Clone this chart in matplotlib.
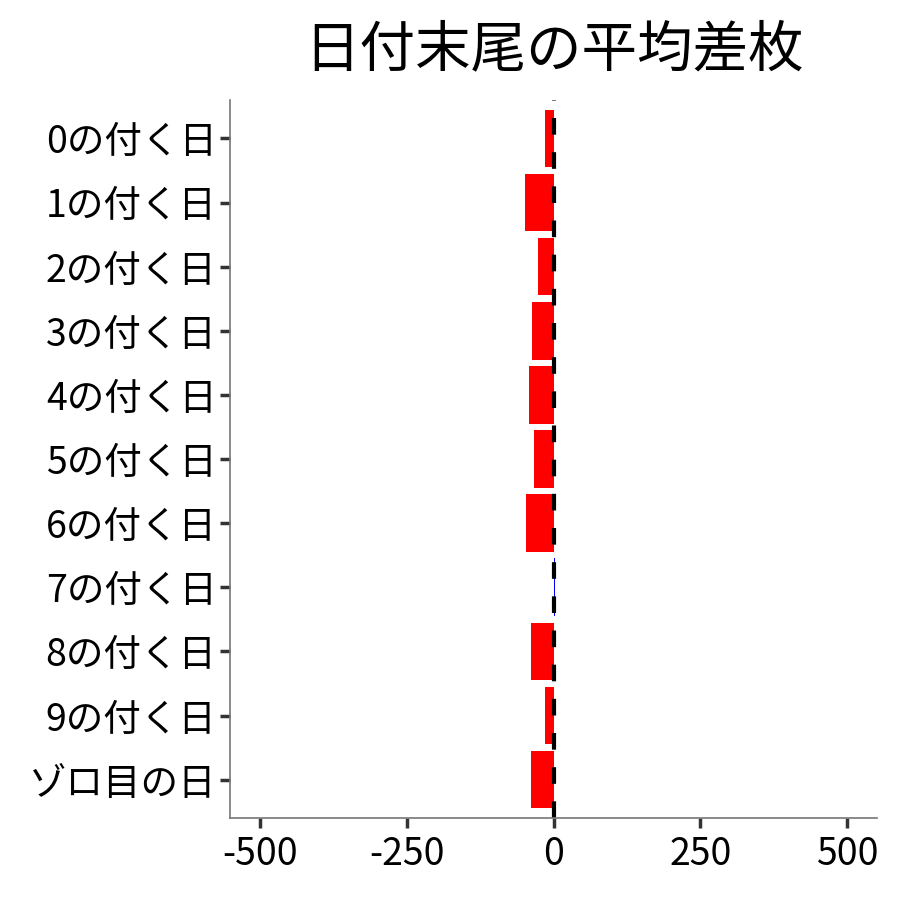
import matplotlib.pyplot as plt

plt.rcParams['font.family'] = ['Noto Sans CJK JP', 'DejaVu Sans']

labels = ['0の付く日', '1の付く日', '2の付く日', '3の付く日', '4の付く日',
          '5の付く日', '6の付く日', '7の付く日', '8の付く日', '9の付く日', 'ゾロ目の日']
values = [-15, -49, -27, -37, -42, -34, -46, 2, -39, -15, -39]
xticks = [-500, -250, 0, 250, 500]

fig = plt.figure(figsize=(9, 9), dpi=100)
ax = fig.add_axes([0.256, 0.091, 0.718, 0.798])

# 負は赤、正は青
colors = ['red' if v < 0 else 'blue' for v in values]
ypos = list(range(len(labels)))
ax.barh(ypos, values, height=0.9, color=colors)
ax.axvline(0, color='black', linestyle=(0, (4, 4.2)), linewidth=3)

ax.set_yticks(ypos)
ax.set_yticklabels(labels, fontsize=27)
ax.set_xticks(xticks)
ax.set_xticklabels([str(t) for t in xticks], fontsize=27)
ax.set_xlim(-550, 550)
ax.set_ylim(len(labels) - 0.4, -0.6)

for side in ['top', 'right']:
    ax.spines[side].set_visible(False)
for side in ['left', 'bottom']:
    ax.spines[side].set_color('#777777')
    ax.spines[side].set_linewidth(1.2)
ax.tick_params(axis='both', length=7, width=2.5, color='#333333', pad=3)
ax.tick_params(axis='x', pad=5)

ax.set_title('日付末尾の平均差枚', fontsize=40, pad=24)

fig.savefig('out.png', dpi=100)
